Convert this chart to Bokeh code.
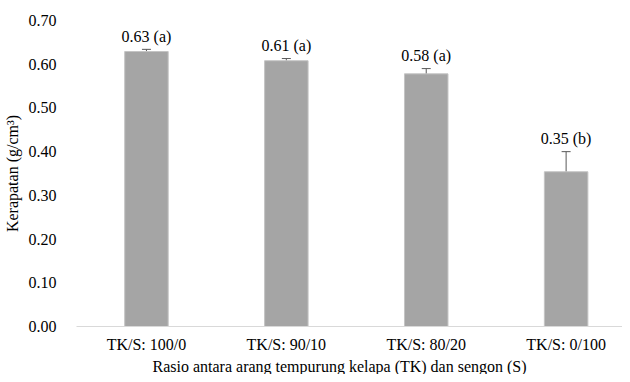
from bokeh.plotting import figure
from bokeh.models import (ColumnDataSource, Range1d, FixedTicker, NumeralTickFormatter,
                          Whisker, TeeHead, Title)
from bokeh.embed import file_html
from bokeh.resources import INLINE
from bokeh.core.properties import value

# ---- data ----
categories = ["TK/S: 100/0", "TK/S: 90/10", "TK/S: 80/20", "TK/S: 0/100"]
density = [0.629, 0.608, 0.578, 0.354]
error = [0.005, 0.005, 0.012, 0.046]
letters = ["a", "a", "a", "b"]
y_ticks = [0.0, 0.1, 0.2, 0.3, 0.4, 0.5, 0.6, 0.7]
x_title = "Rasio antara arang tempurung kelapa (TK) dan sengon (S)"
y_title = "Kerapatan (g/cm\u00b3)"

FONT = "Liberation Serif"

xpos = [i + 0.5 for i in range(len(categories))]
src = ColumnDataSource(dict(
    x=xpos,
    top=density,
    upper=[d + e for d, e in zip(density, error)],
    lower=[d - e for d, e in zip(density, error)],
    label=[f"{d:.2f} ({l})" for d, l in zip(density, letters)],
))

p = figure(width=622, height=374, output_backend="svg", toolbar_location=None,
           x_range=Range1d(0, 3.903), y_range=Range1d(0, 0.70),
           min_border_left=74, min_border_right=0, min_border_top=20,
           min_border_bottom=46)
p.outline_line_color = None
p.xgrid.visible = False
p.ygrid.visible = False

p.vbar(x="x", top="top", width=0.311, source=src,
       fill_color="#a5a5a5", line_color="#c4c4c4", line_width=1)

p.add_layout(Whisker(source=src, base="x", upper="upper", lower="lower",
                     line_color="#595959", line_width=1,
                     upper_head=TeeHead(size=9, line_color="#595959", line_width=1),
                     lower_head=TeeHead(size=9, line_color="#595959", line_width=1)))

p.text(x="x", y="upper", text="label", source=src, y_offset=-13,
       text_align="center", text_baseline="middle",
       text_font=value(FONT), text_font_size="16px", text_color="#000000")

# y axis
p.yaxis.ticker = FixedTicker(ticks=y_ticks)
p.yaxis.formatter = NumeralTickFormatter(format="0.00")
p.yaxis.axis_line_color = None
p.yaxis.major_tick_line_color = None
p.yaxis.minor_tick_line_color = None
p.yaxis.major_label_standoff = 14
p.yaxis.major_label_text_font = FONT
p.yaxis.major_label_text_font_size = "16px"
p.yaxis.major_label_text_color = "#000000"
p.yaxis.axis_label = y_title
p.yaxis.axis_label_text_font = FONT
p.yaxis.axis_label_text_font_size = "16px"
p.yaxis.axis_label_text_font_style = "normal"
p.yaxis.axis_label_text_color = "#000000"
p.yaxis.axis_label_standoff = 5

# x axis
p.xaxis.ticker = FixedTicker(ticks=xpos)
p.xaxis.major_label_overrides = {x: c for x, c in zip(xpos, categories)}
p.xaxis.axis_line_color = "#d9d9d9"
p.xaxis.axis_line_width = 1
p.xaxis.major_tick_line_color = None
p.xaxis.minor_tick_line_color = None
p.xaxis.major_tick_out = 0
p.xaxis.major_tick_in = 0
p.xaxis.axis_label_standoff = 0
p.xaxis.major_label_standoff = 9
p.xaxis.major_label_text_font = FONT
p.xaxis.major_label_text_font_size = "16px"
p.xaxis.major_label_text_color = "#000000"

p.add_layout(Title(text=x_title, align="left", offset=76, standoff=0,
                   text_font=FONT, text_font_size="16px", text_font_style="normal",
                   text_color="#000000"), "below")

open("out.html", "w").write(file_html(p, INLINE))
